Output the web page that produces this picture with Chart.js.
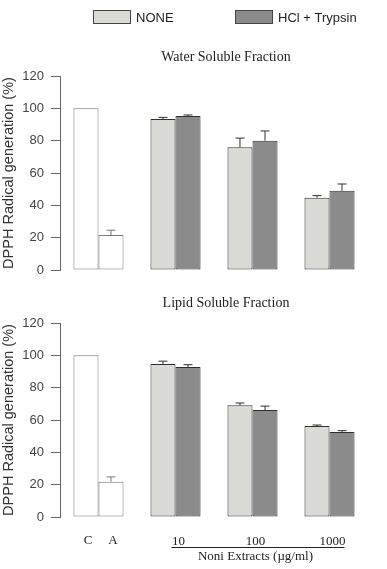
<!DOCTYPE html>
<html>
<head>
<meta charset="utf-8">
<script src="https://cdn.jsdelivr.net/npm/chart.js@4.4.1/dist/chart.umd.min.js"></script>
<style>
  html, body { margin: 0; padding: 0; background: #fff; }
  #wrap { position: relative; width: 387px; height: 569px; }
  .panel { position: absolute; left: 0; width: 387px; }
  #top { top: 0; height: 285px; }
  #bottom { top: 285px; height: 284px; }
</style>
</head>
<body>
<div id="wrap">
  <div class="panel" id="top"><canvas id="water-chart"></canvas></div>
  <div class="panel" id="bottom"><canvas id="lipid-chart"></canvas></div>
</div>
<script>
const categories = ['', '10', '100', '1000'];
const controlLabels = ['C', 'A'];
const seriesNames = ['NONE', 'HCl + Trypsin'];
const yTicks = { min: 0, max: 120, step: 20 };

// first value of each series is a control bar (C in NONE, A in HCl)
const waterNone = [100, 93.4, 75.9, 44.7];
const waterNoneErr = [0, 1.0, 5.7, 1.3];
const waterHcl = [21.6, 95.2, 80.0, 49.0];
const waterHclErr = [3.0, 0.7, 6.0, 4.2];

const lipidNone = [100, 94.6, 69.1, 56.3];
const lipidNoneErr = [0, 1.8, 1.4, 0.6];
const lipidHcl = [21.8, 92.8, 66.2, 52.6];
const lipidHclErr = [3.0, 1.4, 2.4, 0.8];

const SANS = "'Liberation Sans', Arial, sans-serif";
const SERIF = "'Liberation Serif', 'Times New Roman', serif";
const noneColor = '#dadad6';
const hclColor = '#8b8b8b';
const controlFill = '#ffffff';
const controlBorder = '#777777';
const barBorder = '#2e2e2e';

const makeDatasets = (none, noneErr, hcl, hclErr) => [
    {
        label: seriesNames[0],
        data: none,
        errors: noneErr,
        backgroundColor: none.map((v, i) => i === 0 ? controlFill : noneColor),
        borderColor: none.map((v, i) => i === 0 ? controlBorder : barBorder),
        borderWidth: 1,
        borderSkipped: false,
    },
    {
        label: seriesNames[1],
        data: hcl,
        errors: hclErr,
        backgroundColor: hcl.map((v, i) => i === 0 ? controlFill : hclColor),
        borderColor: hcl.map((v, i) => i === 0 ? controlBorder : barBorder),
        borderWidth: 1,
        borderSkipped: false,
    }
];

const errorBars = {
    id: 'errorBars',
    afterDatasetsDraw(chart) {
        const { ctx } = chart;
        const y = chart.scales.y;
        ctx.save();
        ctx.lineWidth = 1;
        chart.data.datasets.forEach((ds, i) => {
            chart.getDatasetMeta(i).data.forEach((bar, j) => {
                const err = ds.errors[j];
                if (!err) return;
                const yTop = y.getPixelForValue(ds.data[j] + err);
                ctx.strokeStyle = j === 0 ? controlBorder : barBorder;
                ctx.beginPath();
                ctx.moveTo(bar.x, bar.y);
                ctx.lineTo(bar.x, yTop);
                ctx.moveTo(bar.x - 4.5, yTop);
                ctx.lineTo(bar.x + 4.5, yTop);
                ctx.stroke();
            });
        });
        ctx.restore();
    }
};

// panel title, legend and the extra x labels
const panelText = {
    id: 'panelText',
    afterDraw(chart, args, opts) {
        const { ctx, chartArea } = chart;
        ctx.save();
        ctx.fillStyle = '#222';
        ctx.textAlign = 'center';
        ctx.textBaseline = 'middle';
        ctx.font = '14px ' + SERIF;
        ctx.fillText(opts.title, chartArea.left + 166, opts.titleY);

        if (opts.legend) {
            const items = [[93, noneColor], [235, hclColor]];
            ctx.font = '13px ' + SANS;
            ctx.textAlign = 'left';
            items.forEach(([x, color], i) => {
                ctx.fillStyle = color;
                ctx.fillRect(x, 10, 38, 14);
                ctx.strokeStyle = '#444';
                ctx.lineWidth = 1;
                ctx.strokeRect(x + 0.5, 10.5, 37, 13);
                ctx.fillStyle = '#222';
                ctx.fillText(seriesNames[i], x + 43, 18);
            });
        }

        if (opts.xLabels) {
            const xs = chart.scales.x;
            const ly = xs.top + 17;
            ctx.font = '13px ' + SERIF;
            ctx.textAlign = 'center';
            ctx.textBaseline = 'top';
            ctx.fillStyle = '#222';
            controlLabels.forEach((t, i) => {
                const bar = chart.getDatasetMeta(i).data[0];
                ctx.fillText(t, bar.x + 2, ly);
            });
            const x1 = xs.getPixelForValue(1) - 4;
            const x2 = xs.getPixelForValue(3) + 15;
            ctx.strokeStyle = '#222';
            ctx.lineWidth = 1;
            ctx.beginPath();
            ctx.moveTo(x1, ly + 13.5);
            ctx.lineTo(x2, ly + 13.5);
            ctx.stroke();
            ctx.textBaseline = 'middle';
            ctx.fillText('Noni Extracts (\u00b5g/ml)', xs.getPixelForValue(2) + 3, ly + 23);
        }
        ctx.restore();
    }
};

const yScale = () => ({
    min: yTicks.min,
    max: yTicks.max,
    afterFit(scale) { scale.width = 60; },
    ticks: {
        stepSize: yTicks.step,
        padding: 7,
        color: '#444',
        font: { family: SANS, size: 13 },
    },
    grid: { drawOnChartArea: false, drawTicks: true, tickLength: 9, color: '#666' },
    border: { display: true, color: '#666', width: 1 },
    title: {
        display: true,
        text: 'DPPH Radical generation (%)',
        color: '#333',
        padding: 0,
        font: { family: SANS, size: 14.5 },
    },
});

const makeChart = (el, datasets, isBottom, title) => new Chart(document.getElementById(el), {
    type: 'bar',
    data: { labels: categories, datasets: datasets },
    plugins: [errorBars, panelText],
    options: {
        responsive: true,
        maintainAspectRatio: false,
        animation: false,
        categoryPercentage: 0.65,
        barPercentage: 1,
        layout: {
            padding: isBottom
                ? { top: 38, right: 19, bottom: 0, left: 0 }
                : { top: 76, right: 19, bottom: 15, left: 0 },
        },
        plugins: {
            legend: { display: false },
            tooltip: { enabled: false },
            panelText: {
                title: title,
                titleY: isBottom ? 18 : 57,
                legend: !isBottom,
                xLabels: isBottom,
            },
        },
        scales: {
            x: {
                display: isBottom,
                afterFit(scale) { scale.height = isBottom ? 52 : 0; },
                grid: { display: false, drawTicks: false },
                border: { display: false },
                ticks: {
                    padding: 17,
                    labelOffset: 3,
                    color: '#222',
                    font: { family: SERIF, size: 13 },
                },
            },
            y: yScale(),
        },
    },
});

makeChart('water-chart', makeDatasets(waterNone, waterNoneErr, waterHcl, waterHclErr), false, 'Water Soluble Fraction');
makeChart('lipid-chart', makeDatasets(lipidNone, lipidNoneErr, lipidHcl, lipidHclErr), true, 'Lipid Soluble Fraction');
</script>
</body>
</html>
